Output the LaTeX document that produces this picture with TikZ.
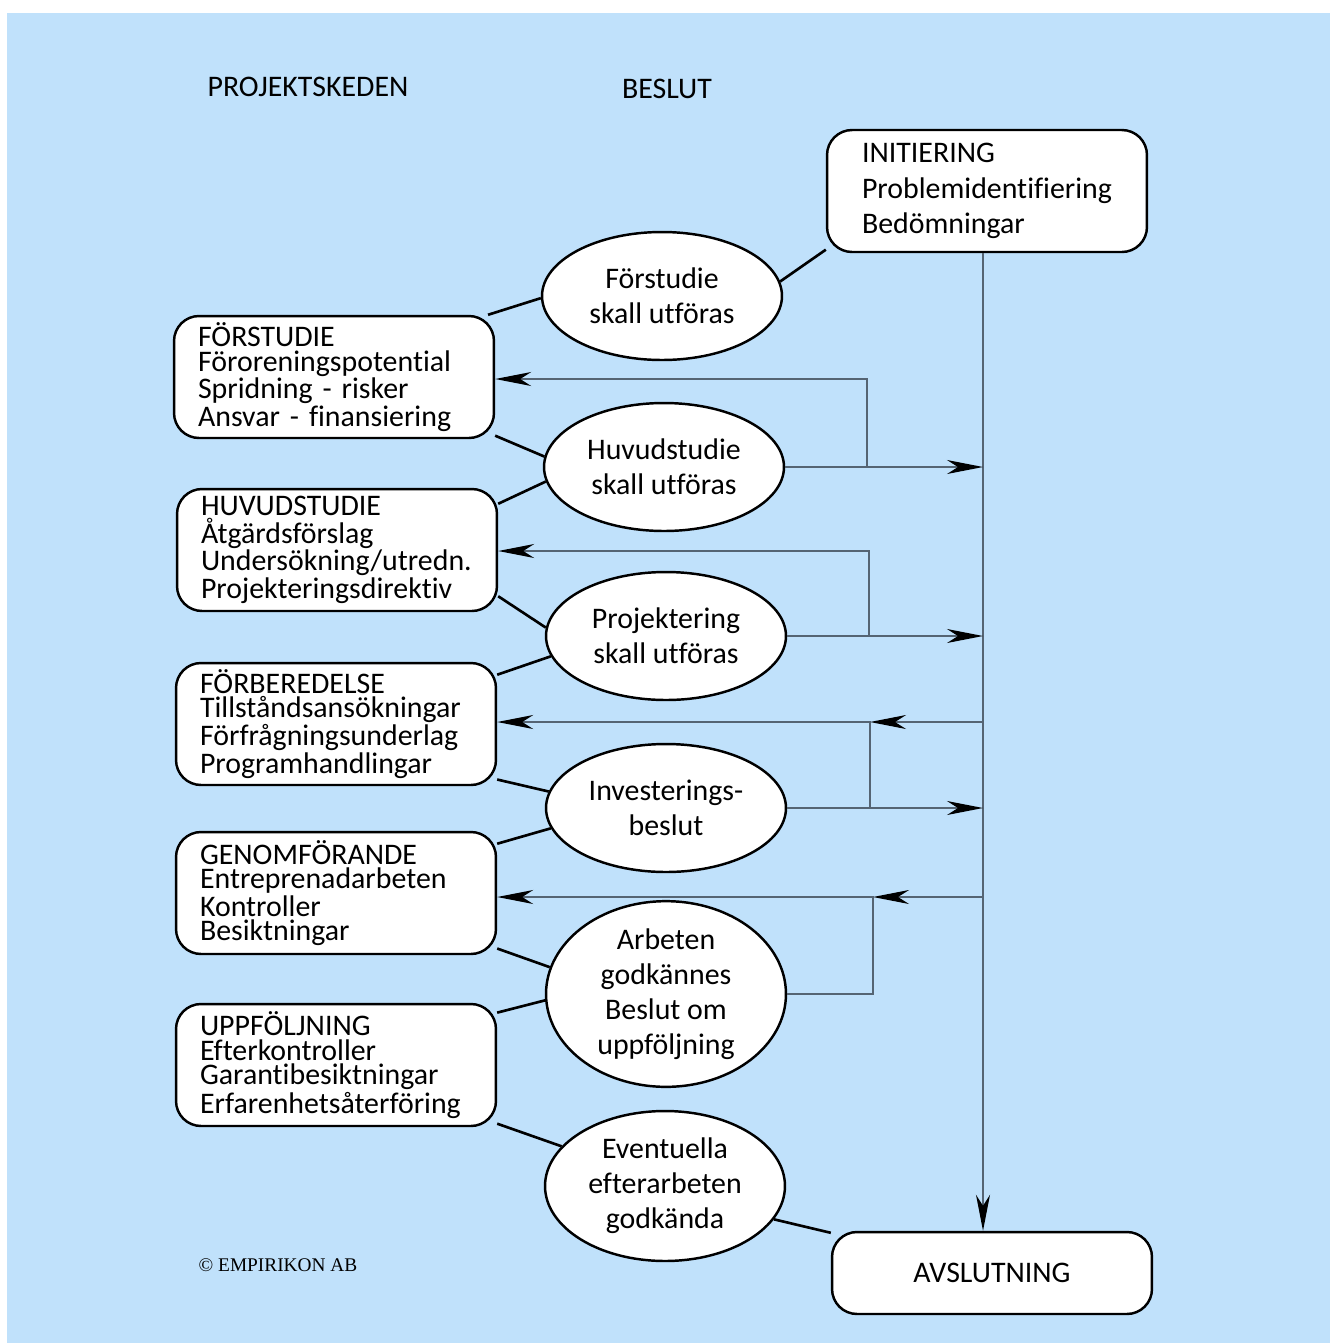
\documentclass[tikz,border=0pt]{standalone}
\usepackage{fontspec}
\setmainfont{Carlito}[Ligatures=NoCommon]
\newfontfamily\copyfont{Liberation Serif}
\usetikzlibrary{shapes.geometric,arrows.meta}
\definecolor{bakgrund}{RGB}{192,225,251}
\definecolor{linjegra}{RGB}{85,100,115}

\begin{document}
\begin{tikzpicture}[x=0.02cm,y=-0.02cm,
  ruta/.style={draw,rectangle,rounded corners=0.5cm,fill=white,line width=1.4pt,minimum width=6.4cm,minimum height=2.44cm},
  skede/.style={ruta,align=left,text width=5.44cm,inner xsep=0.48cm,font=\fontsize{17}{14}\selectfont},
  beslut/.style={draw,ellipse,fill=white,line width=1.4pt,minimum width=4.8cm,minimum height=2.56cm,inner sep=0pt,align=center,font=\fontsize{17}{20}\selectfont},
  koppling/.style={line width=1.5pt},
  pil/.style={draw=linjegra,line width=0.75pt,-{Stealth[length=0.72cm,width=0.28cm,inset=0.22cm,color=black]}},
  rubrik/.style={font=\fontsize{17}{20}\selectfont}]
\useasboundingbox (0,0) rectangle (1330,1343);
\fill[bakgrund] (7,13) rectangle (1330,1343);

\node[rubrik] (skeden) at (308,87) {PROJEKTSKEDEN};
\node[rubrik] (besluten) at (667,89) {BESLUT};

\node[ruta,align=left,font=\fontsize{17}{20}\selectfont] (init) at (987,191) {INITIERING\\Problemidentifiering\\Bedömningar};
\node[ruta,minimum height=1.64cm,font=\fontsize{17}{20}\selectfont] (avsl) at (992,1273) {AVSLUTNING};

% projektskeden
\node[skede] (b1) at (334,377) {FÖRSTUDIE\\Föroreningspotential\\Spridning - risker\\Ansvar - finansiering};
\node[skede] (b2) at (337,550) {HUVUDSTUDIE\\Åtgärdsförslag\\Undersökning/utredn.\\Projekteringsdirektiv};
\node[skede] (b3) at (336,724) {FÖRBEREDELSE\\Tillståndsansökningar\\Förfrågningsunderlag\\Programhandlingar};
\node[skede] (b4) at (336,893) {GENOMFÖRANDE\\Entreprenadarbeten\\Kontroller\\Besiktningar};
\node[skede] (b5) at (336,1065) {UPPFÖLJNING\\Efterkontroller\\Garantibesiktningar\\Erfarenhetsåterföring};

% beslut
\node[beslut] (e1) at (662,296) {Förstudie\\skall utföras};
\node[beslut] (e2) at (664,467) {Huvudstudie\\skall utföras};
\node[beslut] (e3) at (666,636) {Projektering\\skall utföras};
\node[beslut] (e4) at (666,808) {Investerings-\\beslut};
\node[beslut,minimum height=3.12cm] (e5) at (666,994) {Arbeten\\godkännes\\Beslut om\\uppföljning};
\node[beslut,minimum height=3.0cm] (e6) at (665,1186) {Eventuella\\efterarbeten\\godkända};

\node[font=\copyfont\fontsize{11}{13}\selectfont] (copy) at (278,1265) {© EMPIRIKON AB};

% kopplingar
\draw[koppling] (init.200) -- (e1.7);
\draw[koppling] (e1.181) -- (b1.22);
\draw[koppling] (b1.340) -- (e2.175);
\draw[koppling] (e2.187) -- (b2.16);
\draw[koppling] (b2.344) -- (e3.176);
\draw[koppling] (e3.190) -- (b3.17);
\draw[koppling] (b3.341) -- (e4.172);
\draw[koppling] (e4.190) -- (b4.17);
\draw[koppling] (b4.341) -- (e5.167);
\draw[koppling] (e5.183) -- (b5.18);
\draw[koppling] (b5.340) -- (e6.159);
\draw[koppling] (e6.343) -- (avsl.166);

% pilar
\coordinate (m) at (983,0);
\coordinate (r1) at (867,379);
\coordinate (r2) at (869,551);
\coordinate (r3) at (870,722);
\coordinate (r4) at (873,897);
\draw[pil] (init.south -| m) -- (avsl.north -| m);
\draw[pil] (e2.east) -- (e2.east -| m);
\draw[pil] (e2.east -| r1) -- (r1) -- (r1 -| b1.east);
\draw[pil] (e3.east) -- (e3.east -| m);
\draw[pil] (e3.east -| r2) -- (r2) -- (r2 -| b2.east);
\draw[pil] (e4.east) -- (e4.east -| m);
\draw[pil] (m |- r3) -- (r3);
\draw[pil] (e4.east -| r3) -- (r3) -- (r3 -| b3.east);
\draw[pil] (m |- r4) -- (r4);
\draw[pil] (e5.east) -| (r4) -- (r4 -| b4.east);
\end{tikzpicture}
\end{document}
